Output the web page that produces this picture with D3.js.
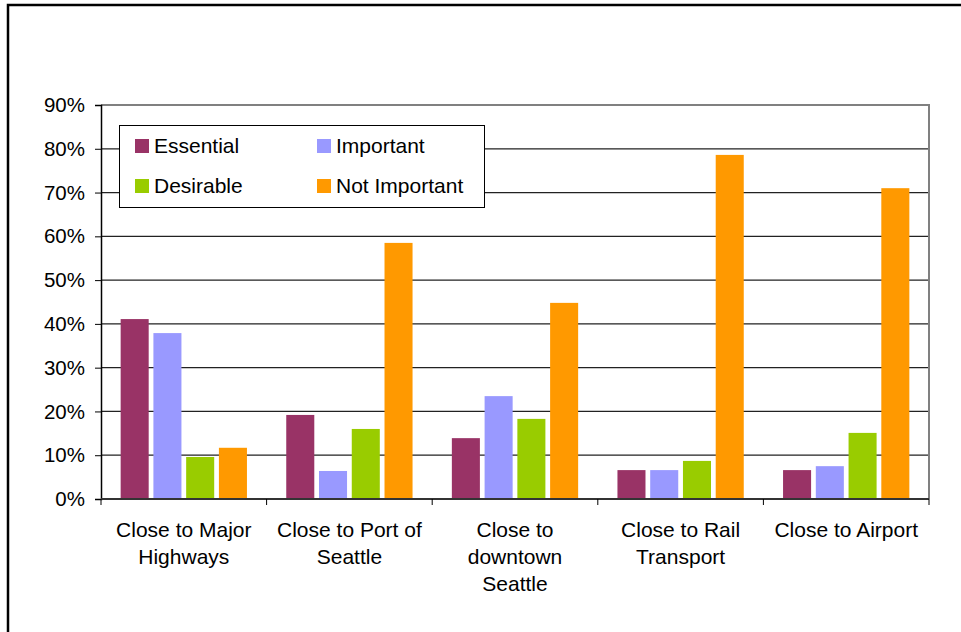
<!DOCTYPE html>
<html>
<head>
<meta charset="utf-8">
<script src="https://cdn.jsdelivr.net/npm/d3@7"></script>
<style>
  body { margin: 0; background: #fff; }
  svg { display: block; font-family: "Liberation Sans", Arial, sans-serif; }
</style>
</head>
<body>
<div id="chart"></div>
<script>
// categories (line breaks as in the original axis labels)
var categories = [
    'Close to Major\nHighways',
    'Close to Port of\nSeattle',
    'Close to\ndowntown\nSeattle',
    'Close to Rail\nTransport',
    'Close to Airport'
];
var seriesNames = ['Essential', 'Important', 'Desirable', 'Not Important'];
var essential = [41.1, 19.2, 13.9, 6.6, 6.6];
var important = [37.9, 6.4, 23.5, 6.6, 7.5];
var desirable = [9.6, 16.0, 18.3, 8.7, 15.1];
var notImportant = [11.7, 58.5, 44.8, 78.6, 71.0];
var yTicks = [0, 10, 20, 30, 40, 50, 60, 70, 80, 90];
var colors = ['#993366', '#9999FF', '#99CC00', '#FF9900'];

var seriesValues = [essential, important, desirable, notImportant];

drawChart('chart');

function drawChart(divName) {
    var svgwidth = 961, svgheight = 632;
    var svg = d3.select('#' + divName).append('svg')
        .attr('width', svgwidth)
        .attr('height', svgheight);

    // outer frame (only left and top edges are in view)
    svg.append('rect')
        .attr('x', 8).attr('y', 5)
        .attr('width', 1000).attr('height', 1000)
        .attr('fill', 'none')
        .attr('stroke', '#000')
        .attr('stroke-width', 2.5);

    var margin = {top: 105, left: 101, right: 32, bottom: 133};
    var w = svgwidth - margin.left - margin.right;
    var h = svgheight - margin.top - margin.bottom;

    var g = svg.append('g')
        .attr('transform', 'translate(' + margin.left + ',' + margin.top + ')');

    var x0 = d3.scaleBand().domain(d3.range(categories.length)).range([0, w]);
    var x1 = d3.scaleBand().domain(d3.range(seriesNames.length))
        .range([0, x0.bandwidth()])
        .paddingInner(0.144)
        .paddingOuter(0.6);
    var y = d3.scaleLinear().domain([0, 90]).range([h, 0]);

    // grid lines
    g.append('g').selectAll('line')
        .data(yTicks.filter(function (d) { return d > 0 && d < 90; }))
        .enter().append('line')
        .attr('x1', 0).attr('x2', w)
        .attr('y1', function (d) { return y(d); })
        .attr('y2', function (d) { return y(d); })
        .attr('stroke', '#222')
        .attr('stroke-width', 1.2);

    // plot border top / right
    g.append('path')
        .attr('d', 'M0,' + y(90) + 'H' + w + 'V' + h)
        .attr('fill', 'none')
        .attr('stroke', '#808080')
        .attr('stroke-width', 2);

    // bars
    var groups = g.selectAll('.grp')
        .data(categories)
        .enter().append('g')
        .attr('class', 'grp')
        .attr('transform', function (d, i) { return 'translate(' + x0(i) + ',0)'; });
    groups.selectAll('rect')
        .data(function (d, i) {
            return seriesValues.map(function (s, k) { return {k: k, v: s[i]}; });
        })
        .enter().append('rect')
        .attr('x', function (d) { return x1(d.k); })
        .attr('width', x1.bandwidth())
        .attr('y', function (d) { return y(d.v); })
        .attr('height', function (d) { return h - y(d.v); })
        .attr('fill', function (d) { return colors[d.k]; });

    // y axis
    var yAxis = g.append('g')
        .call(d3.axisLeft(y).tickValues(yTicks).tickSize(6).tickPadding(10)
            .tickFormat(function (d) { return d + '%'; }));
    yAxis.select('.domain').attr('stroke', '#000').attr('stroke-width', 1.5);
    yAxis.selectAll('.tick line').attr('stroke', '#000');
    yAxis.selectAll('text')
        .attr('font-size', '20.5px')
        .attr('fill', '#000')
        .attr('font-family', '"Liberation Sans", Arial, sans-serif');

    // x axis with ticks at category boundaries
    var xAxisG = g.append('g').attr('transform', 'translate(0,' + h + ')');
    xAxisG.append('line')
        .attr('x1', 0).attr('x2', w)
        .attr('stroke', '#333').attr('stroke-width', 2);
    xAxisG.selectAll('.bt')
        .data(d3.range(categories.length + 1))
        .enter().append('line')
        .attr('x1', function (i) { return i * x0.step(); })
        .attr('x2', function (i) { return i * x0.step(); })
        .attr('y1', 0).attr('y2', 6)
        .attr('stroke', '#000');
    var labels = xAxisG.selectAll('.lbl')
        .data(categories)
        .enter().append('text')
        .attr('text-anchor', 'middle')
        .attr('font-size', '21px')
        .attr('fill', '#000')
        .attr('transform', function (d, i) {
            return 'translate(' + (x0(i) + x0.bandwidth() / 2) + ',38)';
        });
    labels.selectAll('tspan')
        .data(function (d) { return d.split('\n'); })
        .enter().append('tspan')
        .attr('x', 0)
        .attr('dy', function (d, i) { return i === 0 ? 0 : 27; })
        .text(function (d) { return d; });

    // legend
    var legend = svg.append('g').attr('transform', 'translate(119.5,125.5)');
    legend.append('rect')
        .attr('width', 365).attr('height', 82)
        .attr('fill', '#fff')
        .attr('stroke', '#000')
        .attr('stroke-width', 1);
    var items = legend.selectAll('.item')
        .data(seriesNames)
        .enter().append('g')
        .attr('class', 'item')
        .attr('transform', function (d, i) {
            return 'translate(' + (i % 2 === 0 ? 15.5 : 197.5) + ',' + (i < 2 ? 20.5 : 60.5) + ')';
        });
    items.append('rect')
        .attr('y', -7).attr('width', 14).attr('height', 14)
        .attr('fill', function (d, i) { return colors[i]; });
    items.append('text')
        .attr('x', 19).attr('y', 7)
        .attr('font-size', '21px')
        .attr('fill', '#000')
        .text(function (d) { return d; });
}
</script>
</body>
</html>
